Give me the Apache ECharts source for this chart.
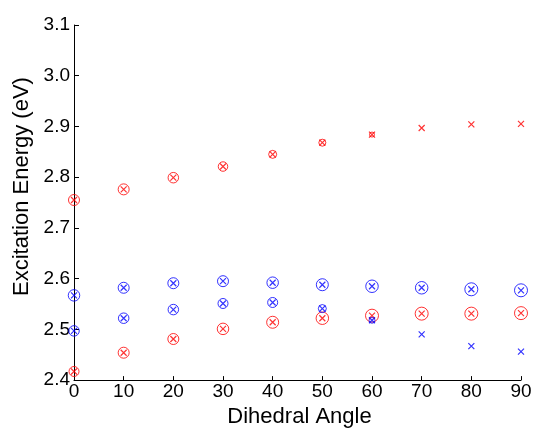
<!DOCTYPE html>
<html>
<head>
<meta charset="utf-8">
<script src="https://cdn.jsdelivr.net/npm/echarts@6/dist/echarts.min.js"></script>
<style>html,body{margin:0;padding:0;background:#fff}#c{width:536px;height:433px}</style>
</head>
<body>
<div id="c"></div>
<script>
var angles = [0, 10, 20, 30, 40, 50, 60, 70, 80, 90];
var yTicks = [2.4, 2.5, 2.6, 2.7, 2.8, 2.9, 3.0, 3.1];
var redUpper = [2.755, 2.776, 2.799, 2.821, 2.845, 2.868, 2.884, 2.897, 2.904, 2.905];
var redLower = [2.417, 2.454, 2.481, 2.501, 2.514, 2.522, 2.527, 2.531, 2.531, 2.532];
var blueUpper = [2.567, 2.582, 2.591, 2.595, 2.592, 2.588, 2.585, 2.582, 2.579, 2.577];
var blueLower = [2.497, 2.522, 2.539, 2.551, 2.553, 2.541, 2.518, 2.490, 2.467, 2.456];
// relative circle marker weights (0 = no circle)
var redUpperWeight = [11, 11, 10.5, 9.5, 8, 7, 5, 0, 0, 0];
var redLowerWeight = [10, 11, 11, 11.5, 12, 12.5, 13, 13, 13, 13];
var blueUpperWeight = [11.5, 11, 11, 11, 11.5, 12, 12.5, 12.5, 13, 13];
var blueLowerWeight = [10.5, 10.5, 10.5, 10, 10, 8, 6, 0, 0, 0];

var RED = '#ff0000', BLUE = '#0000ff';
var XPATH = 'path://M0,0L10,10M10,0L0,10';

function pairs(vals){ return angles.map(function(a,i){ return [a, vals[i]]; }); }
function circleSeries(vals, w, col){
  return {
    type: 'scatter', data: pairs(vals).filter(function(d,i){ return w[i] > 0; }),
    symbol: 'circle',
    symbolSize: function(v, p){ return w[angles.indexOf(v[0])]; },
    itemStyle: { color: 'rgba(0,0,0,0)', borderColor: col, borderWidth: 1 },
    silent: true, animation: false
  };
}
function crossSeries(vals, col){
  return {
    type: 'scatter', data: pairs(vals), symbol: XPATH, symbolSize: 6,
    itemStyle: { color: 'rgba(0,0,0,0)', borderColor: col, borderWidth: 1.2 },
    silent: true, animation: false
  };
}

var chart = echarts.init(document.getElementById('c'));
chart.setOption({
  backgroundColor: '#fff',
  animation: false,
  grid: { left: 74, right: 15, top: 25, bottom: 47 },
  xAxis: {
    type: 'value', min: 0, max: 90, interval: 10,
    name: 'Dihedral Angle', nameLocation: 'middle', nameGap: 19,
    nameTextStyle: { fontFamily: 'Liberation Sans', fontSize: 22, color: '#000', padding: [0, 0, 0, 4] },
    axisLine: { show: true, onZero: false, lineStyle: { color: '#000', width: 1 } },
    axisTick: { show: true, inside: true, length: 4, lineStyle: { color: '#000' } },
    axisLabel: { fontFamily: 'Liberation Sans', fontSize: 19, color: '#000', margin: 2 },
    splitLine: { show: false }
  },
  yAxis: {
    type: 'value', min: 2.4, max: 3.1, interval: 0.1,
    name: 'Excitation Energy (eV)', nameLocation: 'middle', nameGap: 40, nameRotate: 90,
    nameTextStyle: { fontFamily: 'Liberation Sans', fontSize: 22, color: '#000', padding: [0, 0, 0, 32] },
    axisLine: { show: true, onZero: false, lineStyle: { color: '#000', width: 1 } },
    axisTick: { show: true, inside: true, length: 5, lineStyle: { color: '#000' } },
    axisLabel: { fontFamily: 'Liberation Sans', fontSize: 19, color: '#000', margin: 4,
      formatter: function(v){ return (Math.round(v*10)/10).toFixed(1); } },
    splitLine: { show: false }
  },
  series: [
    circleSeries(redUpper, redUpperWeight, RED),
    circleSeries(redLower, redLowerWeight, RED),
    circleSeries(blueUpper, blueUpperWeight, BLUE),
    circleSeries(blueLower, blueLowerWeight, BLUE),
    crossSeries(redUpper, RED),
    crossSeries(redLower, RED),
    crossSeries(blueUpper, BLUE),
    crossSeries(blueLower, BLUE)
  ]
});
</script>
</body>
</html>
